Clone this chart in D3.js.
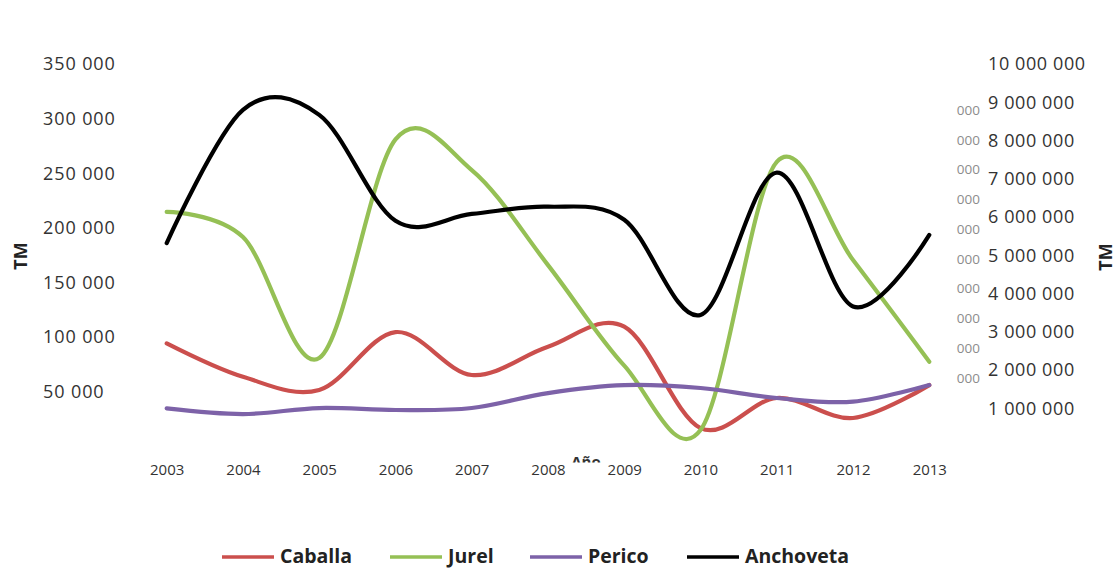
<!DOCTYPE html>
<html>
<head>
<meta charset="utf-8">
<script src="https://cdn.jsdelivr.net/npm/d3@7"></script>
<style>
  html, body { margin: 0; padding: 0; background: #fff; }
  svg { display: block; }
  .tick text { fill: #333; }
</style>
</head>
<body>
<svg id="chart" width="1118" height="568"></svg>
<script>
// Landings by species, tonnes (TM)
const years = [2003, 2004, 2005, 2006, 2007, 2008, 2009, 2010, 2011, 2012, 2013];
const caballa = [94400, 63800, 51700, 104700, 65400, 91300, 109600, 16900, 44400, 26100, 56200];
const jurel = [214700, 191600, 80900, 281000, 253000, 166000, 74000, 15100, 260500, 170600, 77600];
const perico = [34900, 29700, 35200, 33400, 35200, 48900, 56200, 53500, 44400, 41000, 56200];
const anchoveta = [5320000, 8800000, 8670000, 5900000, 6080000, 6270000, 5930000, 3440000, 7160000, 3660000, 5530000];

// Axis ticks
const leftTicks = [50000, 100000, 150000, 200000, 250000, 300000, 350000];
const rightTicks = [1000000, 2000000, 3000000, 4000000, 5000000, 6000000, 7000000, 8000000, 9000000, 10000000];
const overlapLabels = ["000", "000", "000", "000", "000", "000", "000", "000", "000", "000"];

const seriesNames = ["Caballa", "Jurel", "Perico", "Anchoveta"];
const seriesColors = ["#cb4f4d", "#95c055", "#7d62a8", "#000000"];

const svg = d3.select("#chart");

const x = d3.scalePoint().domain(years).range([166.7, 929.3]);
const yLeft = d3.scaleLinear().domain([0, 350000]).range([446.5, 64]);
const yRight = d3.scaleLinear().domain([0, 10000000]).range([446.5, 64]);

const fmt = d3.formatLocale({ decimal: ",", thousands: " ", grouping: [3], currency: ["", ""] }).format(",");

// Left value axis
const gl = svg.append("g").attr("transform", "translate(43,0)")
  .call(d3.axisRight(yLeft).tickValues(leftTicks).tickSize(0).tickPadding(0).tickFormat(fmt));
gl.select(".domain").remove();
gl.selectAll("text").attr("font-family", "Open Sans").attr("font-size", 18).attr("letter-spacing", "0.9px");

// Right value axis
const gr = svg.append("g").attr("transform", "translate(988,0)")
  .call(d3.axisRight(yRight).tickValues(rightTicks).tickSize(0).tickPadding(0).tickFormat(fmt));
gr.select(".domain").remove();
gr.selectAll("text").attr("font-family", "Open Sans").attr("font-size", 18).attr("letter-spacing", "0.6px");

// Partly hidden labels behind the right axis
svg.append("clipPath").attr("id", "overlapClip")
  .append("rect").attr("x", 955).attr("y", 90).attr("width", 28).attr("height", 310);
const yOverlap = d3.scalePoint().domain(d3.range(overlapLabels.length)).range([110, 378]);
svg.append("g").attr("clip-path", "url(#overlapClip)")
  .selectAll("text").data(overlapLabels).join("text")
  .attr("x", 980).attr("y", (d, i) => yOverlap(i)).attr("dy", "0.35em")
  .attr("text-anchor", "end")
  .attr("font-family", "Open Sans").attr("font-size", 13.5)
  .attr("fill", "#8c8c8c")
  .text(d => d);

// Category axis
const gx = svg.append("g").attr("transform", "translate(0,462)")
  .call(d3.axisBottom(x).tickSize(0).tickPadding(2));
gx.select(".domain").remove();
gx.selectAll("text").attr("font-family", "Open Sans").attr("font-size", 15);

// Category axis title, cut off under the year labels
svg.append("clipPath").attr("id", "titleClip")
  .append("rect").attr("x", 540).attr("y", 440).attr("width", 100).attr("height", 22.5);
svg.append("text").attr("clip-path", "url(#titleClip)")
  .attr("x", 586).attr("y", 467).attr("text-anchor", "middle")
  .attr("font-family", "Open Sans").attr("font-weight", "bold").attr("font-size", 15)
  .attr("fill", "#333").text("Año");

// Axis titles
svg.append("text").attr("transform", "translate(27,256) rotate(-90)")
  .attr("text-anchor", "middle")
  .attr("font-family", "Open Sans").attr("font-weight", "bold").attr("font-size", 18)
  .attr("fill", "#222").text("TM");
svg.append("text").attr("transform", "translate(1112,257) rotate(-90)")
  .attr("text-anchor", "middle")
  .attr("font-family", "Open Sans").attr("font-weight", "bold").attr("font-size", 18)
  .attr("fill", "#222").text("TM");

// Series lines (smoothed)
const series = [
  { name: seriesNames[0], values: caballa, y: yLeft, color: seriesColors[0] },
  { name: seriesNames[1], values: jurel, y: yLeft, color: seriesColors[1] },
  { name: seriesNames[2], values: perico, y: yLeft, color: seriesColors[2] },
  { name: seriesNames[3], values: anchoveta, y: yRight, color: seriesColors[3] }
];

svg.append("g").selectAll("path").data(series).join("path")
  .attr("fill", "none")
  .attr("stroke", d => d.color)
  .attr("stroke-width", 4.2)
  .attr("stroke-linecap", "round")
  .attr("stroke-linejoin", "round")
  .attr("d", s => d3.line()
    .x((v, i) => x(years[i]))
    .y(v => s.y(v))
    .curve(d3.curveCatmullRom.alpha(0))(s.values));

// Legend
const legendX = [222, 390, 530, 687];
const lg = svg.append("g");
series.forEach((s, i) => {
  lg.append("line")
    .attr("x1", legendX[i]).attr("x2", legendX[i] + 52)
    .attr("y1", 557).attr("y2", 557)
    .attr("stroke", s.color).attr("stroke-width", 3.5);
  lg.append("text")
    .attr("x", legendX[i] + 58).attr("y", 563)
    .attr("font-family", "Open Sans").attr("font-weight", "bold").attr("font-size", 19.5)
    .attr("fill", "#222").text(s.name);
});
</script>
</body>
</html>
